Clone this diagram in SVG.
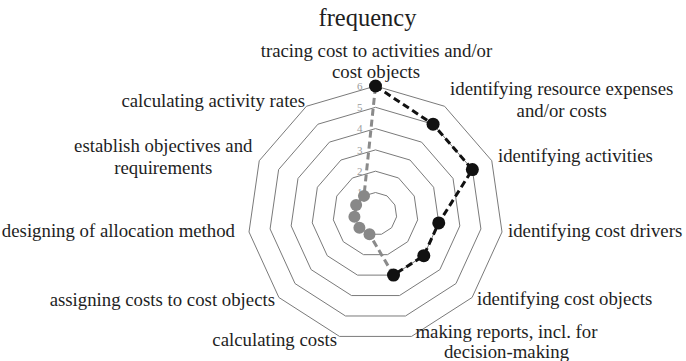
<svg xmlns="http://www.w3.org/2000/svg" width="686" height="361" viewBox="0 0 686 361">
<style>
.lbl{font-family:"Liberation Serif","Times New Roman",serif;font-size:18.8px;fill:#1e1e1e}
.title{font-family:"Liberation Serif","Times New Roman",serif;font-size:24.5px;fill:#1e1e1e}
.tick{font-family:"Liberation Serif","Times New Roman",serif;font-size:11px;fill:#9a9a9a;text-anchor:end}
.ring{fill:none;stroke:#7a7a7a;stroke-width:1}
.sblack{fill:none;stroke:#111;stroke-width:3;stroke-dasharray:7 4}
.sgrey{fill:none;stroke:#8a8a8a;stroke-width:3;stroke-dasharray:7 4}
.dblack{fill:#111}
.dgrey{fill:#888}
.mid{text-anchor:middle}
.end{text-anchor:end}
</style>
<rect width="686" height="361" fill="#fff"/>
<text class="title mid" x="367.5" y="26">frequency</text>
<g id="grid" transform="translate(375.5,213.8)">
<polygon class="ring" points="0,-21.3 11.51,-17.92 19.37,-8.85 21.08,3.03 16.10,13.95 6.00,20.44 -6.00,20.44 -16.10,13.95 -21.08,3.03 -19.37,-8.85 -11.51,-17.92"/>
<polygon class="ring" points="0,-42.6 23.03,-35.84 38.75,-17.70 42.17,6.06 32.19,27.90 12.00,40.87 -12.00,40.87 -32.19,27.90 -42.17,6.06 -38.75,-17.70 -23.03,-35.84"/>
<polygon class="ring" points="0,-63.9 34.54,-53.76 58.12,-26.54 63.25,9.09 48.29,41.85 18.00,61.31 -18.00,61.31 -48.29,41.85 -63.25,9.09 -58.12,-26.54 -34.54,-53.76"/>
<polygon class="ring" points="0,-85.2 46.06,-71.68 77.50,-35.39 84.33,12.12 64.39,55.80 24.00,81.75 -24.00,81.75 -64.39,55.80 -84.33,12.12 -77.50,-35.39 -46.06,-71.68"/>
<polygon class="ring" points="0,-106.5 57.57,-89.60 96.87,-44.24 105.41,15.15 80.48,69.75 30.00,102.19 -30.00,102.19 -80.48,69.75 -105.41,15.15 -96.87,-44.24 -57.57,-89.60"/>
<polygon class="ring" points="0,-127.8 69.09,-107.52 116.25,-53.09 126.50,18.19 96.58,83.70 36.00,122.62 -36.00,122.62 -96.58,83.70 -126.50,18.19 -116.25,-53.09 -69.09,-107.52"/>
<text class="tick" x="-13" y="-17.5">1</text>
<text class="tick" x="-13" y="-38.8">2</text>
<text class="tick" x="-13" y="-60.1">3</text>
<text class="tick" x="-13" y="-81.4">4</text>
<text class="tick" x="-13" y="-102.7">5</text>
<text class="tick" x="-13" y="-123.6">6</text>
</g>
<g id="connectors" transform="translate(375.5,213.8)">
<polyline class="sgrey" points="18.00,61.31 -6.00,20.44 -16.10,13.95 -21.08,3.03 -19.37,-8.85 -11.51,-17.92 0,-127.8"/>
<polyline class="sblack" points="0,-127.8 57.57,-89.60 96.87,-44.24 63.25,9.09 48.29,41.85 18.00,61.31"/>
</g>
<g id="points" transform="translate(375.5,213.8)">
<circle class="dgrey" cx="-6.00" cy="20.44" r="6"/>
<circle class="dgrey" cx="-16.10" cy="13.95" r="6"/>
<circle class="dgrey" cx="-21.08" cy="3.03" r="6"/>
<circle class="dgrey" cx="-19.37" cy="-8.85" r="6"/>
<circle class="dgrey" cx="-11.51" cy="-17.92" r="6"/>
<circle class="dblack" cx="0" cy="-127.8" r="6.5"/>
<circle class="dblack" cx="57.57" cy="-89.60" r="6.5"/>
<circle class="dblack" cx="96.87" cy="-44.24" r="6.5"/>
<circle class="dblack" cx="63.25" cy="9.09" r="6.5"/>
<circle class="dblack" cx="48.29" cy="41.85" r="6.5"/>
<circle class="dblack" cx="18.00" cy="61.31" r="6.5"/>
</g>
<g id="n0"><text class="lbl mid" x="376.5" y="57">tracing cost to activities and/or</text><text class="lbl mid" x="376" y="78">cost objects</text></g>
<g id="n1"><text class="lbl mid" x="561.7" y="95">identifying resource expenses</text><text class="lbl mid" x="561.7" y="117">and/or costs</text></g>
<g id="n2"><text class="lbl" x="498" y="162">identifying activities</text></g>
<g id="n3"><text class="lbl" x="508" y="237">identifying cost drivers</text></g>
<g id="n4"><text class="lbl" x="477" y="305">identifying cost objects</text></g>
<g id="n5"><text class="lbl mid" x="506.5" y="338">making reports, incl. for</text><text class="lbl mid" x="506.5" y="357.5">decision-making</text></g>
<g id="n6"><text class="lbl end" x="337" y="346">calculating costs</text></g>
<g id="n7"><text class="lbl end" x="275" y="306">assigning costs to cost objects</text></g>
<g id="n8"><text class="lbl end" x="235" y="237">designing of allocation method</text></g>
<g id="n9"><text class="lbl mid" x="163.3" y="152">establish objectives and</text><text class="lbl mid" x="163.3" y="174">requirements</text></g>
<g id="n10"><text class="lbl end" x="305" y="107">calculating activity rates</text></g>
</svg>
